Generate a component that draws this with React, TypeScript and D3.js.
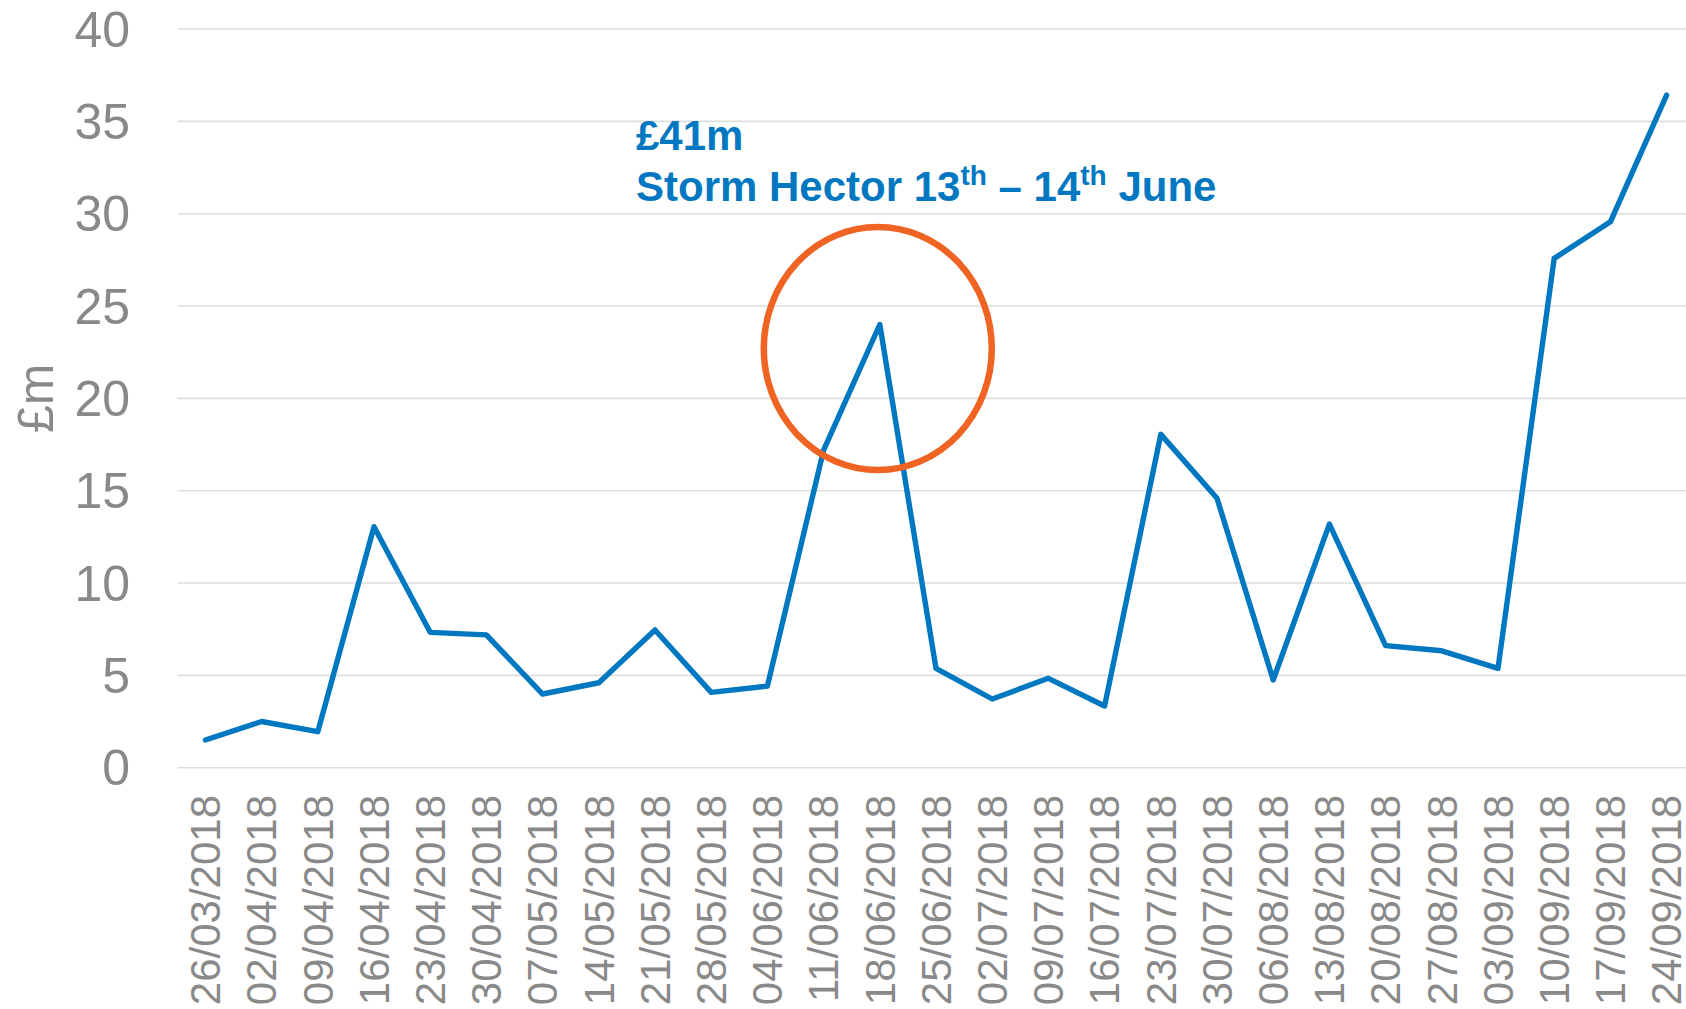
import React from "react";
import * as d3 from "d3";

const dates: string[] = [
  "26/03/2018", "02/04/2018", "09/04/2018", "16/04/2018", "23/04/2018", "30/04/2018",
  "07/05/2018", "14/05/2018", "21/05/2018", "28/05/2018", "04/06/2018", "11/06/2018",
  "18/06/2018", "25/06/2018", "02/07/2018", "09/07/2018", "16/07/2018", "23/07/2018",
  "30/07/2018", "06/08/2018", "13/08/2018", "20/08/2018", "27/08/2018", "03/09/2018",
  "10/09/2018", "17/09/2018", "24/09/2018",
];

const values: number[] = [
  1.5, 2.5, 1.95, 13.05, 7.33, 7.19, 3.99, 4.6, 7.46, 4.08, 4.42, 17.2, 24.0, 5.38,
  3.72, 4.84, 3.34, 18.05, 14.59, 4.75, 13.19, 6.61, 6.33, 5.38, 27.58, 29.56, 36.42,
];

const yTicks: number[] = [0, 5, 10, 15, 20, 25, 30, 35, 40];
const yLabel = "£m";
const highlightDate = "18/06/2018";
const highlightValue = 22.7;

const W = 1686;
const H = 1009;
const FONT = "Arial, 'Liberation Sans', sans-serif";
const GRAY = "#898989";
const BLUE = "#0078C1";
const ORANGE = "#EF6423";

export default function App() {
  const x = d3.scaleBand<string>().domain(dates).range([177.3, 177.3 + 27 * 56.2]).padding(0);
  const cx = (d: string) => (x(d) as number) + x.bandwidth() / 2;
  const y = d3.scaleLinear().domain([0, 40]).range([767.7, 29]);

  const line = d3
    .line<number>()
    .x((_, i) => cx(dates[i]))
    .y((v) => y(v));

  return (
    <svg
      width={W}
      height={H}
      style={{ position: "absolute", left: 0, top: 0, display: "block", background: "#fff" }}
      fontFamily={FONT}
    >
      {yTicks.map((t) => (
        <g key={t}>
          <line x1={177.7} x2={W} y1={y(t)} y2={y(t)} stroke="#DEDEDE" strokeWidth={1.6} />
          <text x={130} y={y(t)} dy="0.35em" textAnchor="end" fontSize={50} fill={GRAY}>
            {t}
          </text>
        </g>
      ))}
      <text
        transform={`translate(53, ${(y(0) + y(40)) / 2}) rotate(-90)`}
        textAnchor="middle"
        fontSize={50}
        fill={GRAY}
      >
        {yLabel}
      </text>
      {dates.map((d) => (
        <text
          key={d}
          transform={`translate(${cx(d)}, 795) rotate(-90)`}
          textAnchor="end"
          dy="0.35em"
          fontSize={42}
          fill={GRAY}
        >
          {d}
        </text>
      ))}
      <path
        d={line(values) || ""}
        fill="none"
        stroke={BLUE}
        strokeWidth={5.4}
        strokeLinejoin="round"
        strokeLinecap="round"
      />
      <ellipse
        cx={cx(highlightDate) - 2}
        cy={y(highlightValue)}
        rx={114}
        ry={121.5}
        fill="none"
        stroke={ORANGE}
        strokeWidth={6.5}
      />
      <g fill={BLUE} fontWeight="bold" fontSize={42}>
        <text x={636} y={150}>£41m</text>
        <text x={636} y={201}>
          Storm Hector 13
          <tspan fontSize={28} dy={-16}>th</tspan>
          <tspan dy={16}> – 14</tspan>
          <tspan fontSize={28} dy={-16}>th</tspan>
          <tspan dy={16}> June</tspan>
        </text>
      </g>
    </svg>
  );
}
